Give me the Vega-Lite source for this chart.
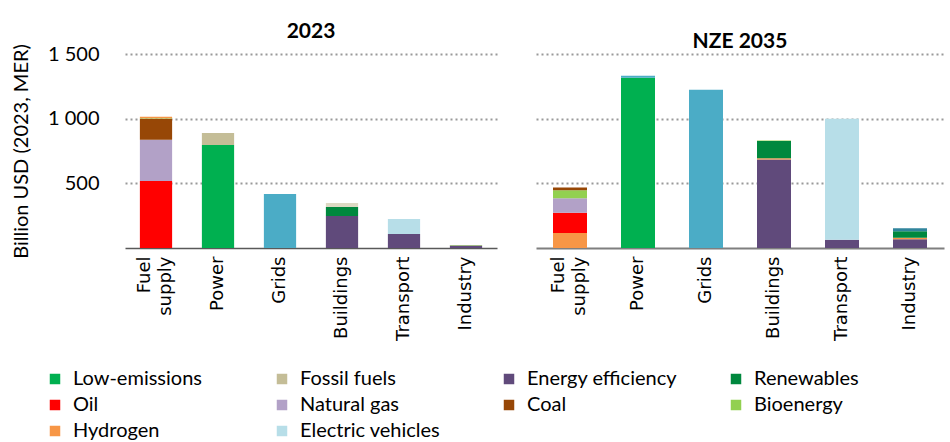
{
  "$schema": "https://vega.github.io/schema/vega-lite/v6.json",
  "background": "white",
  "padding": {"left": 11, "top": 20, "right": 5, "bottom": 5},
  "datasets": {
    "inv": [
      {"scenario": "2023", "sector": "Fuel supply", "category": "Oil", "value": 518, "order": 1},
      {"scenario": "2023", "sector": "Fuel supply", "category": "Natural gas", "value": 319, "order": 2},
      {"scenario": "2023", "sector": "Fuel supply", "category": "Coal", "value": 163, "order": 3},
      {"scenario": "2023", "sector": "Fuel supply", "category": "Bioenergy", "value": 4, "order": 4},
      {"scenario": "2023", "sector": "Fuel supply", "category": "Hydrogen", "value": 10, "order": 5},
      {"scenario": "2023", "sector": "Power", "category": "Low-emissions", "value": 796, "order": 1},
      {"scenario": "2023", "sector": "Power", "category": "Fossil fuels", "value": 93, "order": 2},
      {"scenario": "2023", "sector": "Grids", "category": "Networks", "value": 417, "order": 1},
      {"scenario": "2023", "sector": "Buildings", "category": "Energy efficiency", "value": 247, "order": 1},
      {"scenario": "2023", "sector": "Buildings", "category": "Renewables", "value": 70, "order": 2},
      {"scenario": "2023", "sector": "Buildings", "category": "Other fossil", "value": 31, "order": 3},
      {"scenario": "2023", "sector": "Transport", "category": "Energy efficiency", "value": 108, "order": 1},
      {"scenario": "2023", "sector": "Transport", "category": "Electric vehicles", "value": 116, "order": 2},
      {"scenario": "2023", "sector": "Industry", "category": "Energy efficiency", "value": 20, "order": 1},
      {"scenario": "2023", "sector": "Industry", "category": "Bioenergy", "value": 3, "order": 2},
      {"scenario": "NZE 2035", "sector": "Fuel supply", "category": "Hydrogen", "value": 116, "order": 1},
      {"scenario": "NZE 2035", "sector": "Fuel supply", "category": "Oil", "value": 157, "order": 2},
      {"scenario": "NZE 2035", "sector": "Fuel supply", "category": "Natural gas", "value": 111, "order": 3},
      {"scenario": "NZE 2035", "sector": "Fuel supply", "category": "Bioenergy", "value": 62, "order": 4},
      {"scenario": "NZE 2035", "sector": "Fuel supply", "category": "Coal", "value": 21, "order": 5},
      {"scenario": "NZE 2035", "sector": "Power", "category": "Low-emissions", "value": 1316, "order": 1},
      {"scenario": "NZE 2035", "sector": "Power", "category": "Networks", "value": 15, "order": 2},
      {"scenario": "NZE 2035", "sector": "Grids", "category": "Networks", "value": 1224, "order": 1},
      {"scenario": "NZE 2035", "sector": "Buildings", "category": "Energy efficiency", "value": 685, "order": 1},
      {"scenario": "NZE 2035", "sector": "Buildings", "category": "Hydrogen", "value": 8, "order": 2},
      {"scenario": "NZE 2035", "sector": "Buildings", "category": "Renewables", "value": 134, "order": 3},
      {"scenario": "NZE 2035", "sector": "Buildings", "category": "Bioenergy", "value": 4, "order": 4},
      {"scenario": "NZE 2035", "sector": "Transport", "category": "Energy efficiency", "value": 64, "order": 1},
      {"scenario": "NZE 2035", "sector": "Transport", "category": "Electric vehicles", "value": 935, "order": 2},
      {"scenario": "NZE 2035", "sector": "Industry", "category": "Energy efficiency", "value": 67, "order": 1},
      {"scenario": "NZE 2035", "sector": "Industry", "category": "Hydrogen", "value": 13, "order": 2},
      {"scenario": "NZE 2035", "sector": "Industry", "category": "Renewables", "value": 49, "order": 3},
      {"scenario": "NZE 2035", "sector": "Industry", "category": "Other low-emissions", "value": 23, "order": 4}
    ]
  },
  "data": {"name": "inv"},
  "spacing": 39,
  "resolve": {"scale": {"x": "independent", "y": "independent", "color": "shared"}},
  "hconcat": [
    {
      "transform": [{"filter": "datum.scenario == '2023'"}],
      "title": "2023",
      "width": 372,
      "height": 194,
      "mark": {"type": "bar"},
      "encoding": {
        "x": {
          "field": "sector", "type": "nominal",
          "sort": ["Fuel supply", "Power", "Grids", "Buildings", "Transport", "Industry"],
          "scale": {"paddingInner": 0.48, "paddingOuter": 0.24},
          "axis": {
            "title": null, "labelAngle": 270, "ticks": false,
            "labelFont": "DejaVu Sans", "labelFontSize": 18, "labelColor": "#000000",
            "labelPadding": 8, "labelLineHeight": 21,
            "labelOffset": {"condition": {"test": "datum.label == 'Fuel supply'", "value": -11}, "value": 0},
            "labelExpr": "datum.label == 'Fuel supply' ? ['Fuel', 'supply'] : datum.label",
            "domainColor": "#595959", "domainWidth": 1.5
          }
        },
        "y": {
          "field": "value", "type": "quantitative", "stack": "zero",
          "scale": {"domain": [0, 1500], "nice": false},
          "axis": {
            "title": "Billion USD (2023, MER)",
            "titleFont": "Lato", "titleFontSize": 20, "titleFontWeight": "normal", "titleColor": "#000000", "titlePadding": 16,
            "values": [0, 500, 1000, 1500],
            "labelExpr": "datum.value == 0 ? '' : replace(format(datum.value, ','), ',', ' ')",
            "labelFont": "Lato", "labelFontSize": 20, "labelColor": "#000000", "labelPadding": 26,
            "ticks": false, "domain": false,
            "grid": true, "gridColor": "#999999", "gridDash": [2, 3], "gridWidth": 2,
            "gridOpacity": {"condition": {"test": "datum.value == 0", "value": 0}, "value": 1}
          }
        },
        "color": {
          "field": "category", "type": "nominal",
          "scale": {
            "domain": ["Low-emissions", "Fossil fuels", "Energy efficiency", "Renewables", "Oil", "Natural gas", "Coal", "Bioenergy", "Hydrogen", "Electric vehicles", "Networks", "Other fossil", "Other low-emissions"],
            "range": ["#00B050", "#C4BD97", "#604A7B", "#00883E", "#FF0000", "#B2A1C7", "#974706", "#92D050", "#F79646", "#B7DEE8", "#4BACC6", "#DDD9C3", "#31859C"]
          },
          "legend": {
            "orient": "none", "legendX": -80, "legendY": 315,
            "title": null, "columns": 4, "direction": "horizontal",
            "symbolType": "square", "symbolSize": 110, "symbolStrokeWidth": 0,
            "labelFont": "Lato", "labelFontSize": 20, "labelColor": "#000000",
            "labelOffset": 8, "rowPadding": 6, "columnPadding": 48, "gridAlign": "all",
            "values": ["Low-emissions", "Fossil fuels", "Energy efficiency", "Renewables", "Oil", "Natural gas", "Coal", "Bioenergy", "Hydrogen", "Electric vehicles"]
          }
        },
        "order": {"field": "order", "type": "quantitative"}
      }
    },
    {
      "transform": [{"filter": "datum.scenario == 'NZE 2035'"}],
      "title": "NZE 2035",
      "width": 408,
      "height": 194,
      "mark": {"type": "bar"},
      "encoding": {
        "x": {
          "field": "sector", "type": "nominal",
          "sort": ["Fuel supply", "Power", "Grids", "Buildings", "Transport", "Industry"],
          "scale": {"paddingInner": 0.5, "paddingOuter": 0.25},
          "axis": {
            "title": null, "labelAngle": 270, "ticks": false,
            "labelFont": "DejaVu Sans", "labelFontSize": 18, "labelColor": "#000000",
            "labelPadding": 8, "labelLineHeight": 21,
            "labelOffset": {"condition": {"test": "datum.label == 'Fuel supply'", "value": -11}, "value": 0},
            "labelExpr": "datum.label == 'Fuel supply' ? ['Fuel', 'supply'] : datum.label",
            "domainColor": "#7f7f7f", "domainWidth": 2
          }
        },
        "y": {
          "field": "value", "type": "quantitative", "stack": "zero",
          "scale": {"domain": [0, 1500], "nice": false},
          "axis": {
            "title": null, "labels": false, "ticks": false, "domain": false,
            "values": [0, 500, 1000, 1500],
            "grid": true, "gridColor": "#999999", "gridDash": [2, 3], "gridWidth": 2,
            "gridOpacity": {"condition": {"test": "datum.value == 0", "value": 0}, "value": 1}
          }
        },
        "color": {"field": "category", "type": "nominal"},
        "order": {"field": "order", "type": "quantitative"}
      }
    }
  ],
  "config": {
    "view": {"stroke": null},
    "title": {"font": "Lato", "fontSize": 21, "fontWeight": "bold", "color": "#000000", "offset": 2, "anchor": "middle"}
  }
}
